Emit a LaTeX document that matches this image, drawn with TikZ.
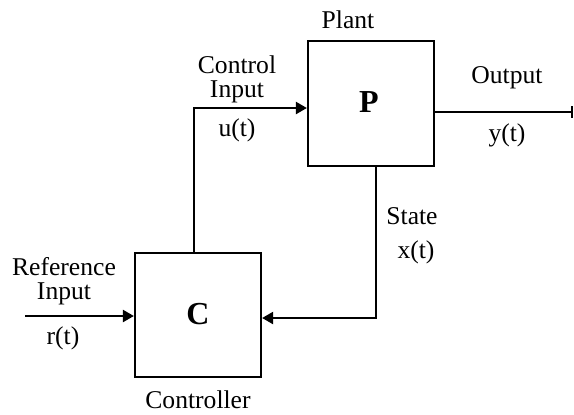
\documentclass[tikz,border=0pt]{standalone}
\usepackage{fontspec}
\setmainfont{Liberation Serif}
\usetikzlibrary{arrows.meta}
\begin{document}
\begin{tikzpicture}[x=0.5pt,y=-0.5pt,
  blk/.style={draw,line width=1.1pt,inner sep=0pt},
  lbl/.style={font=\fontsize{12.8}{14}\selectfont,align=center,inner sep=0pt},
  big/.style={font=\fontsize{16}{18}\selectfont\bfseries,inner sep=0pt},
  wire/.style={line width=1.1pt},
  arr/.style={wire,-{Triangle[length=5.5pt,width=6pt]}}]
\useasboundingbox (0,0) rectangle (574,414);
\node[blk,minimum width=63pt,minimum height=62.5pt] (P) at (371,103.5) {};
\node[blk,minimum width=63pt,minimum height=62pt] (C) at (198,315) {};
\node[big] at (369,102) {P};
\node[big] at (198,314) {C};
\node[lbl] (plant) at (348,20) {Plant};
\node[lbl] (ctrl) at (198,400) {Controller};
\node[lbl] (ci) at (237,79) {Control\\[-2pt]Input};
\node[lbl] (u) at (237,130) {u(t)};
\node[lbl] (out) at (507,78) {Output};
\node[lbl] (y) at (507,135) {y(t)};
\node[lbl] (st) at (412,216) {State};
\node[lbl] (x) at (416,252) {x(t)};
\node[lbl] (ri) at (64,281) {Reference\\[-2pt]Input};
\node[lbl] (r) at (63,338) {r(t)};
\coordinate (rin) at (25,316);
\coordinate (yend) at (573,112);
\draw[arr] (rin) -- (C.west |- rin);
\draw[arr] (C.north -| 194,0) |- (P.west |- 0,108);
\draw[arr] (P.south -| 376,0) |- (C.east |- 0,318);
\draw[wire,-{Bar[width=6pt,line width=1.1pt]}] (P.east |- yend) -- (yend);
\end{tikzpicture}
\end{document}
